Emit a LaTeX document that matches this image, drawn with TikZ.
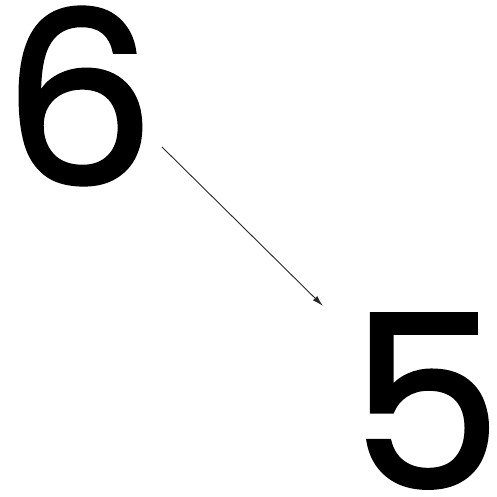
\documentclass[tikz,border=0pt]{standalone}
\usepackage{fontspec}
\setmainfont{Poppins}
\newfontfamily\digitfont{Poppins}[FakeBold=1.5]
\usetikzlibrary{arrows.meta}
\begin{document}
\begin{tikzpicture}[x=1pt,y=1pt,
  digit/.style={inner sep=0pt,font=\digitfont\fontsize{240}{240}\selectfont},
  conn/.style={draw=black!85,line width=0.9pt,-{Latex[length=11pt,width=6pt]}}]
\useasboundingbox (0,0) rectangle (496,497);
\node[digit] (six) at (79,401) {6};
\node[digit] (five) at (426,96) {5};
\draw[conn] ([shift={(83,-51)}]six.center) -- ([shift={(-103,95)}]five.center);
\end{tikzpicture}
\end{document}
